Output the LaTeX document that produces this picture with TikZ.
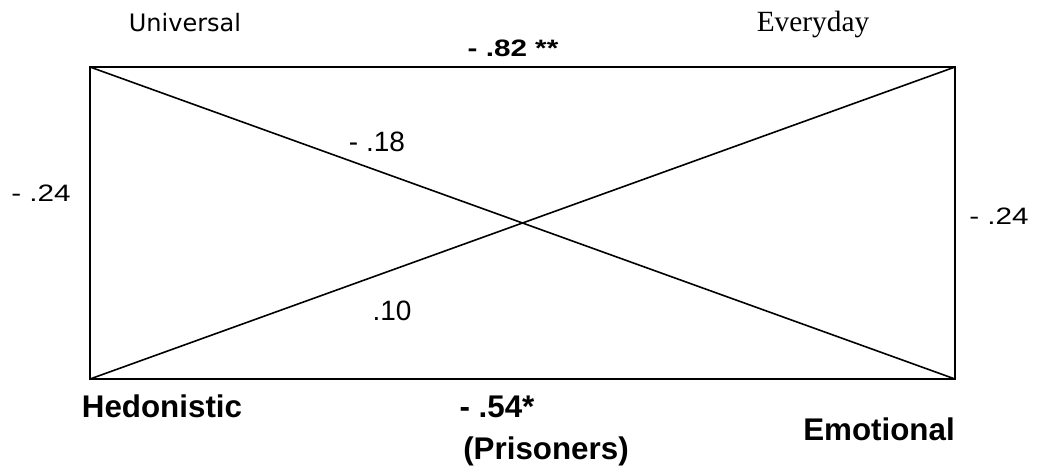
\documentclass[tikz,border=0pt]{standalone}
\usepackage{fontspec}
\setmainfont{Liberation Sans}
\newfontfamily\corrSerif{Liberation Serif}
\newfontfamily\corrTahoma{DejaVu Sans}
\newfontfamily\corrWide[FakeStretch=1.25]{Liberation Sans}
\begin{document}
\begin{tikzpicture}[x=.75pt,y=-.75pt,
      scopelabel/.style={font=\fontsize{18}{21}\selectfont\corrTahoma, anchor=base},
      lifelabel/.style={font=\fontsize{22}{25}\selectfont\corrSerif, anchor=base},
      motive/.style={font=\fontsize{23.5}{27}\selectfont\bfseries, anchor=base},
      diagcoef/.style={font=\fontsize{21}{24}\selectfont, anchor=base},
      sidecoef/.style={font=\corrWide\fontsize{17.8}{20}\selectfont, anchor=base},
      topcoef/.style={font=\corrWide\fontsize{17.8}{20}\selectfont\bfseries,
        anchor=base},
      edge/.style={draw=black, line width=1.4pt, line join=miter}]
      \useasboundingbox (0,0) rectangle (1037,470);

      \fill[white] (0,0) rectangle (1037,470);

      \coordinate (nw) at (90,67);
      \coordinate (ne) at (955,67);
      \coordinate (se) at (955,379);
      \coordinate (sw) at (90,379);

      \draw[edge] (nw) -- (ne) -- (se) -- (sw) -- cycle;
      \draw[edge, line width=1.2pt] (nw) -- (se);
      \draw[edge, line width=1.2pt] (sw) -- (ne);

      \node[scopelabel] (universal) at (185,32) {Universal};
      \node[lifelabel] (everyday) at (813,32) {Everyday};
      \node[topcoef] (top) at (513,57) {- .82 **};

      \node[sidecoef] (left) at (41,201) {- .24};
      \node[sidecoef] (right) at (999,224) {- .24};
      \node[diagcoef] (falling) at (377,152) {- .18};
      \node[diagcoef] (rising) at (392,320) {.10};

      \node[motive] (hedonistic) at (162,417) {Hedonistic};
      \node[motive] (bottom) at (497,417) {- .54*};
      \node[motive] (prisoners) at (546,459) {(Prisoners)};
      \node[motive] (emotional) at (879,440) {Emotional};
    \end{tikzpicture}
\end{document}
